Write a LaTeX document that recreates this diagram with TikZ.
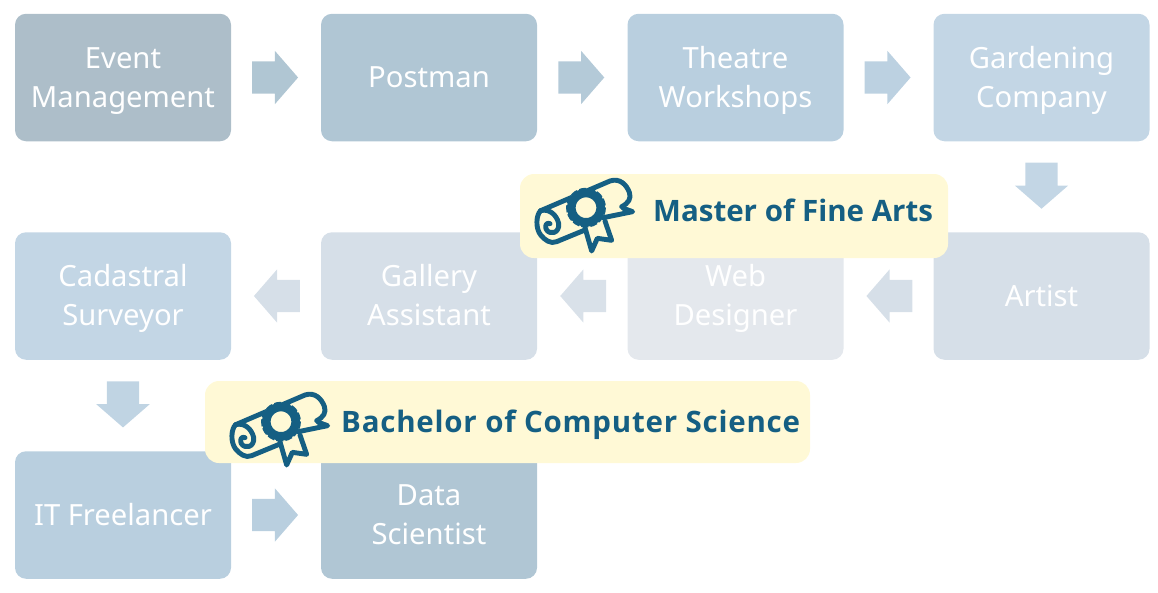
\documentclass[tikz,border=0pt]{standalone}
\usepackage{fontspec}
\setmainfont{Noto Sans}
\newfontfamily\badgefont{Open Sans}
\usetikzlibrary{shapes.arrows}
\newcommand{\lnstrut}{\rule[-9.5pt]{0pt}{39pt}}
\newcommand{\twolines}[2]{\lnstrut #1\\\lnstrut #2}
\definecolor{inkblue}{HTML}{155F83}
\definecolor{badge}{HTML}{FFF9D6}
\definecolor{cA}{HTML}{ADBEC9}
\definecolor{cB}{HTML}{B0C6D4}
\definecolor{cC}{HTML}{B9CFDF}
\definecolor{cD}{HTML}{C3D6E5}
\definecolor{cE}{HTML}{D6DFE8}
\definecolor{cF}{HTML}{E4E8ED}
\tikzset{
  box/.style={rectangle,rounded corners=11pt,minimum width=216pt,minimum height=127.5pt,inner sep=0pt,align=center,
    text=white,font=\fontsize{29.2}{39}\selectfont},
  blockarrow/.style={single arrow,minimum height=46pt,inner sep=0pt,text height=32pt,text depth=0pt,text width=0pt,
    single arrow head extend=10.5pt,single arrow tip angle=98,single arrow head indent=0pt,
    sloped,allow upside down,pos=0.411,fill=#1},
  badgebox/.style={rectangle,rounded corners=14pt,fill=badge,inner sep=0pt},
  badgetext/.style={anchor=base west,inner sep=0pt,text=inkblue,font=\badgefont\fontsize{29.5}{34}\selectfont\bfseries},
  pics/diploma/.style={code={
    \begin{scope}[x=0.3333pt,y=-0.3333pt,line width=4.9pt,draw=inkblue,line join=round,line cap=round]
      \draw (92,137) -- (300,48) .. controls (330,38) and (350,60) .. (358,82)
            .. controls (365,100) and (355,115) .. (335,125);
      \draw (92,137) .. controls (78,150) and (76,190) .. (92,210)
            .. controls (104,225) and (122,238) .. (140,230) -- (225,195);
      \draw (92,137) .. controls (118,130) and (140,150) .. (146,175)
            .. controls (150,205) and (118,212) .. (108,192)
            .. controls (104,178) and (112,172) .. (120,176);
      \draw (280,158) -- (368,140) -- (340,130);
      \draw (225,188) -- (245,258) -- (262,220) -- (305,226) -- (285,168);
      \draw[fill=badge,line width=2.5pt,line cap=butt,dash pattern=on 7pt off 2pt] (228,128) circle[radius=56];
      \draw[fill=badge,line width=8.6pt] (228,128) circle[radius=44];
    \end{scope}
  }}
}
\begin{document}
\begin{tikzpicture}[x=1pt,y=-1pt]
\useasboundingbox (0,0) rectangle (1158,592);
\node[box,fill=cA] (event) at (123,77.5) {\twolines{Event}{Management}};
\node[box,fill=cB] (postman) at (429,77.5) {\lnstrut Postman};
\node[box,fill=cC] (theatre) at (735.5,77.5) {\twolines{Theatre}{Workshops}};
\node[box,fill=cD] (garden) at (1041.5,77.5) {\twolines{Gardening}{Company}};
\node[box,fill=cE] (artist) at (1041.5,296) {\lnstrut Artist};
\node[box,fill=cF] (web) at (735.5,296) {\twolines{Web}{Designer}};
\node[box,fill=cE] (gallery) at (429,296) {\twolines{Gallery}{Assistant}};
\node[box,fill=cD] (cadastral) at (123,296) {\twolines{Cadastral}{Surveyor}};
\node[box,fill=cC] (it) at (123,515) {\lnstrut IT Freelancer};
\node[box,fill=cB] (data) at (429,515) {\twolines{Data}{Scientist}};

\path (event) -- node[blockarrow=cB!95!cA] (a1) {} (postman);
\path (postman) -- node[blockarrow=cB!60!cC] (a2) {} (theatre);
\path (theatre) -- node[blockarrow=cC!70!cD] (a3) {} (garden);
\path (garden) -- node[blockarrow=cD] (a4) {} (artist);
\path (artist) -- node[blockarrow=cE] (a5) {} (web);
\path (web) -- node[blockarrow=cE!80!cF] (a6) {} (gallery);
\path (gallery) -- node[blockarrow=cE] (a7) {} (cadastral);
\path (cadastral) -- node[blockarrow=cD!70!cC] (a8) {} (it);
\path (it) -- node[blockarrow=cC] (a9) {} (data);

\node[badgebox,minimum width=428pt,minimum height=84pt] (master) at (734,216) {};
\node[badgebox,minimum width=605pt,minimum height=82pt] (bachelor) at (507.5,422) {};
\pic at (510,165) {diploma};
\pic at (205,379) {diploma};
\node[badgetext] (mastertext) at (653,221) {Master of Fine Arts};
\node[badgetext] (bachelortext) at (341,432.5) {\addfontfeature{LetterSpace=2.6}Bachelor of Computer Science};
\end{tikzpicture}
\end{document}
